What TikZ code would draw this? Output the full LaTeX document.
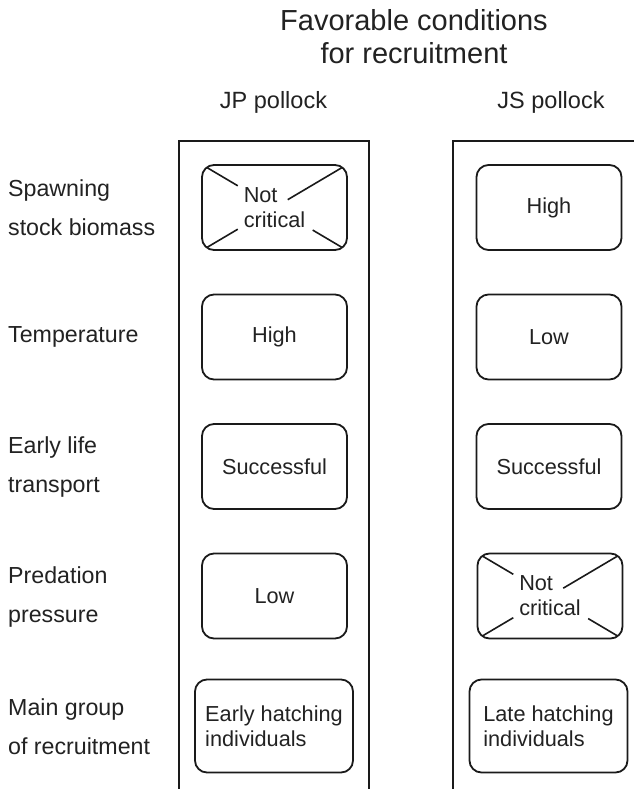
\documentclass[tikz,border=0pt]{standalone}
\usepackage{fontspec}
\setmainfont{Liberation Sans}
\usetikzlibrary{calc}
\definecolor{ink}{HTML}{222222}
\definecolor{edge}{HTML}{1A1A1A}
\begin{document}
\begin{tikzpicture}[x=1pt,y=-1pt,
  cell/.style={draw=edge,line width=1.8pt,rounded corners=12pt,
    minimum width=145pt,minimum height=85pt,inner sep=0pt,align=center,
    text=ink,font=\fontsize{21.7}{25}\selectfont},
  wide/.style={cell,minimum width=158pt,minimum height=93pt,align=left},
  rowlabel/.style={anchor=west,inner sep=0pt,align=left,text=ink,
    font=\fontsize{23.2}{39}\selectfont},
  head/.style={inner sep=0pt,text=ink,font=\fontsize{23.5}{26}\selectfont,anchor=base},
  frame/.style={draw=edge,line width=1.8pt},
  cross/.style={draw=edge,line width=1.6pt}]

\fill[white] (0,0) rectangle (634,789);
\useasboundingbox (0,0) rectangle (634,789);

% heading
\node[inner sep=0pt,anchor=north,align=center,text=ink,
  font=\fontsize{29}{33}\selectfont] (title) at (414,9)
  {Favorable conditions\\for recruitment};
\node[head] (jp) at (273.5,109) {JP pollock};
\node[head] (js) at (551,109) {JS pollock};

% column frames (open at the bottom)
\draw[frame] (179,789) -- (179,141) -- (369,141) -- (369,789);
\draw[frame] (453,789) -- (453,141) -- (634,141);

% row labels
\node[rowlabel] (l1) at (8,207.5) {Spawning\\stock biomass};
\node[rowlabel] (l2) at (8,337) {Temperature};
\node[rowlabel] (l3) at (8,467) {Early life\\transport};
\node[rowlabel] (l4) at (8,597) {Predation\\pressure};
\node[rowlabel] (l5) at (8,727) {Main group\\of recruitment};

% JP pollock column
\node[cell,align=left] (jp1) at (274.5,207.5) {Not\\critical};
\node[cell] (jp2) at (274.5,337) {High};
\node[cell] (jp3) at (274.5,466.5) {Successful};
\node[cell] (jp4) at (274.5,596) {Low};
\node[wide] (jp5) at (274,726) {Early hatching\\individuals};

% JS pollock column
\node[cell] (js1) at (549,207.5) {High};
\node[cell] (js2) at (549,337) {Low};
\node[cell] (js3) at (549,466.5) {Successful};
\node[cell,align=left] (js4) at (550,596) {Not\\critical};
\node[wide] (js5) at (548.5,726) {Late hatching\\individuals};

% crossed-out cells
\foreach \b in {jp1,js4}{
  \draw[cross] ($(\b.north west)!0.04!(\b.south east)$) -- ($(\b.north west)!0.25!(\b.south east)$);
  \draw[cross] ($(\b.north east)!0.04!(\b.south west)$) -- ($(\b.north east)!0.41!(\b.south west)$);
  \draw[cross] ($(\b.south west)!0.04!(\b.north east)$) -- ($(\b.south west)!0.25!(\b.north east)$);
  \draw[cross] ($(\b.south east)!0.04!(\b.north west)$) -- ($(\b.south east)!0.24!(\b.north west)$);
}
\end{tikzpicture}
\end{document}
